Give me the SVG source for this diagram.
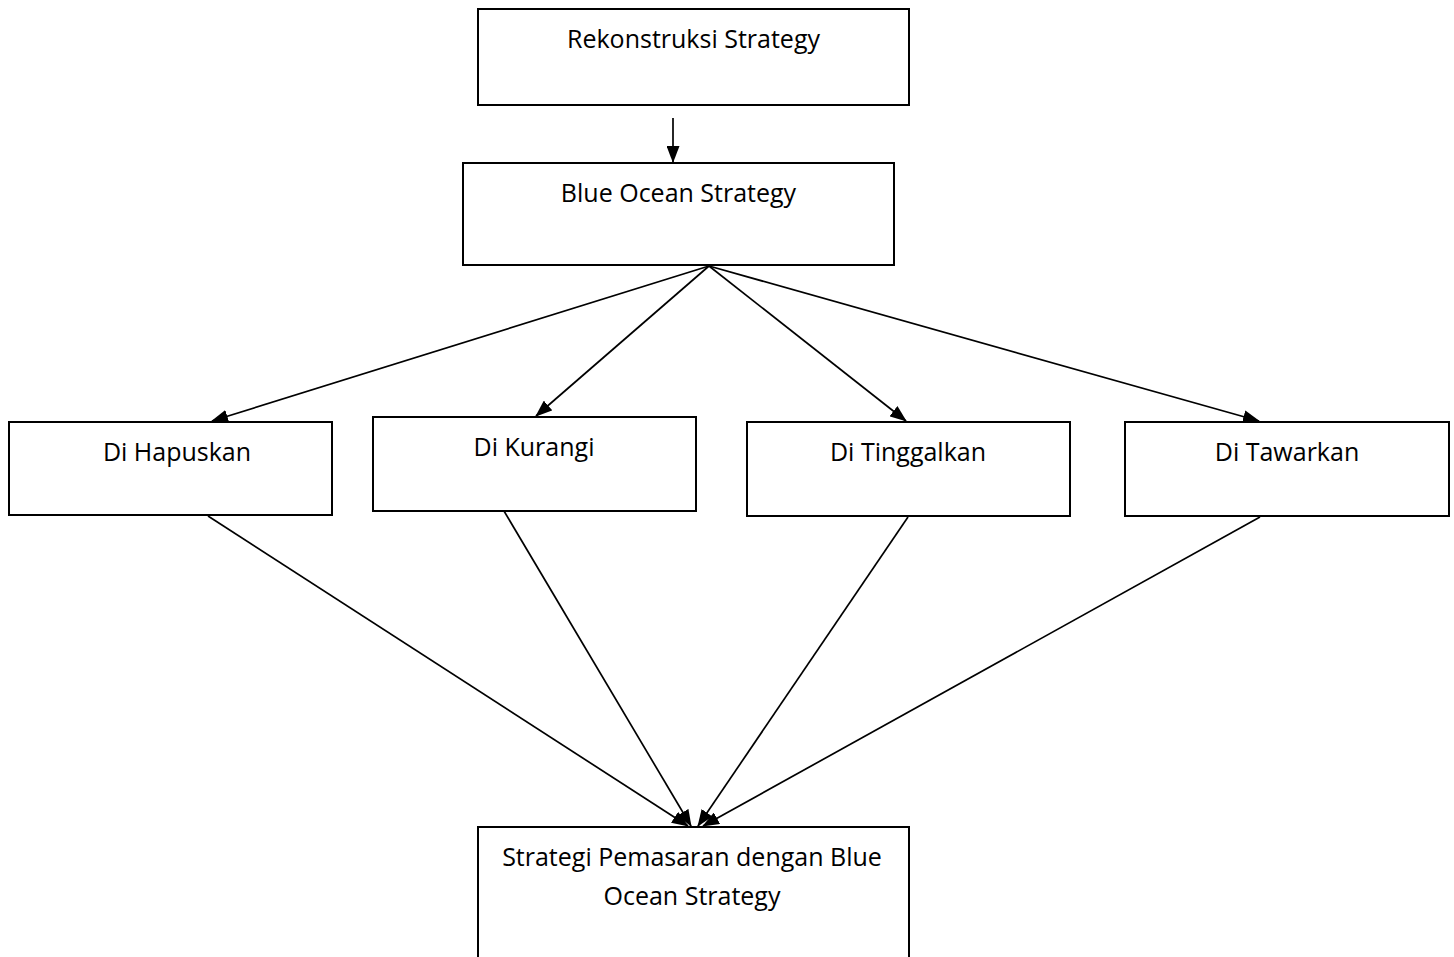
<svg xmlns="http://www.w3.org/2000/svg" width="1454" height="957" viewBox="0 0 1454 957">
<style>
.box{fill:#fff;stroke:#000;stroke-width:2}
.lbl{font-family:"Open Sans","Liberation Sans",sans-serif;font-size:25px;fill:#000;text-anchor:middle}
.con{stroke:#000;stroke-width:1.7;fill:none;marker-end:url(#ah)}
</style>
<defs>
<marker id="ah" markerWidth="17" markerHeight="13" refX="16" refY="6.5" orient="auto" markerUnits="userSpaceOnUse">
<path d="M0,0 L17,6.5 L0,13 Z" fill="#000"/>
</marker>
</defs>
<rect width="1454" height="957" fill="#fff"/>
<g id="n1"><rect class="box" x="478" y="9" width="431" height="96"/><text class="lbl" x="693.5" y="48">Rekonstruksi Strategy</text></g>
<g id="n2"><rect class="box" x="463" y="163" width="431" height="102"/><text class="lbl" x="678.5" y="202">Blue Ocean Strategy</text></g>
<g id="n3"><rect class="box" x="9" y="422" width="323" height="93"/><text class="lbl" x="177" y="461">Di Hapuskan</text></g>
<g id="n4"><rect class="box" x="373" y="417" width="323" height="94"/><text class="lbl" x="534" y="456">Di Kurangi</text></g>
<g id="n5"><rect class="box" x="747" y="422" width="323" height="94"/><text class="lbl" x="908" y="461">Di Tinggalkan</text></g>
<g id="n6"><rect class="box" x="1125" y="422" width="324" height="94"/><text class="lbl" x="1287" y="461">Di Tawarkan</text></g>
<g id="n7"><rect class="box" x="478" y="827" width="431" height="140"/><text class="lbl" x="692" y="866">Strategi Pemasaran dengan Blue</text><text class="lbl" x="692" y="905">Ocean Strategy</text></g>
<g id="connectors">
<line class="con" x1="673" y1="118" x2="673" y2="162"/>
<line class="con" x1="709" y1="266" x2="212" y2="421"/>
<line class="con" x1="709" y1="266" x2="536" y2="416"/>
<line class="con" x1="709" y1="266" x2="906" y2="421"/>
<line class="con" x1="709" y1="266" x2="1259" y2="421"/>
<line class="con" x1="208" y1="516" x2="688" y2="826"/>
<line class="con" x1="504" y1="511" x2="691" y2="826"/>
<line class="con" x1="908" y1="517" x2="698" y2="826"/>
<line class="con" x1="1260" y1="517" x2="703" y2="826"/>
</g>
</svg>
